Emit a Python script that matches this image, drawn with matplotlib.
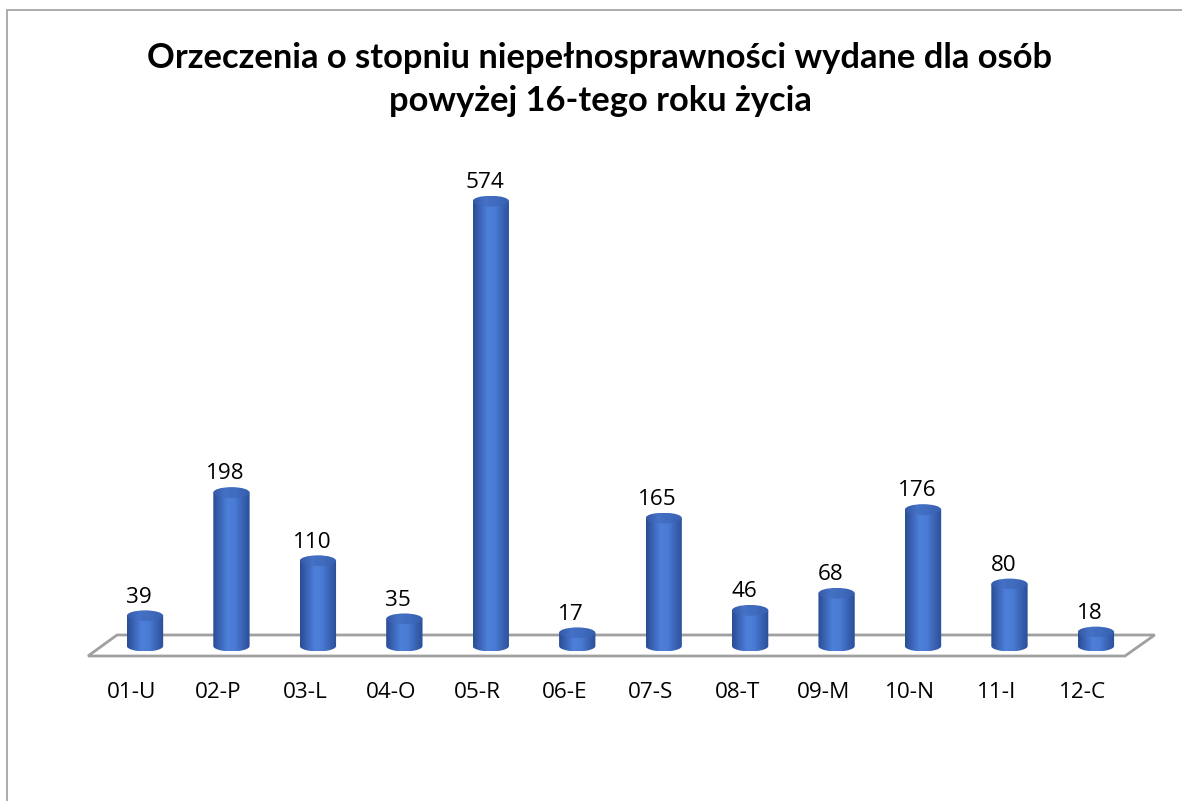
import numpy as np
import matplotlib
matplotlib.use("Agg")
import matplotlib.pyplot as plt
from matplotlib.patches import Ellipse, PathPatch, Rectangle, Polygon
from matplotlib.path import Path
from matplotlib.colors import LinearSegmentedColormap
from matplotlib.transforms import ScaledTranslation

# data
categories = ["01-U", "02-P", "03-L", "04-O", "05-R", "06-E",
              "07-S", "08-T", "09-M", "10-N", "11-I", "12-C"]
values = [39, 198, 110, 35, 574, 17, 165, 46, 68, 176, 80, 18]
title = "Orzeczenia o stopniu niepełnosprawności wydane dla osób\npowyżej 16-tego roku życia"

plt.rcParams['font.family'] = ['Open Sans', 'DejaVu Sans']

W, H = 1182, 801
fig = plt.figure(figsize=(W / 100, H / 100), dpi=100)

# outer chart frame (only top and left edges visible)
fig.patches.append(Rectangle((7 / W, -0.2), 1.2, 1.2 - 10 / H, transform=fig.transFigure,
                             fill=False, ec="#a6a6a6", lw=1.3))

ax = fig.add_axes([80 / W, (H - 660) / H, 1090 / W, 510 / H])
ax.set_xlim(-0.752, 11.857)
ax.set_ylim(-18.06, 640)
for s in ax.spines.values():
    s.set_visible(False)
ax.set_yticks([])
ax.set_xticks(range(len(categories)))
ax.set_xticklabels(categories, fontsize=16.2)
ax.tick_params(axis="x", length=0, pad=16)
# labels sit on the front edge of the 3D floor, a bit left of the bars
shift = ScaledTranslation(-13 / 100, 0, fig.dpi_scale_trans)
for lab in ax.get_xticklabels():
    lab.set_transform(lab.get_transform() + shift)

# floor
floor = Polygon([(-0.324, 14.2), (11.68, 14.2), (11.336, -12.9), (-0.659, -12.9)],
                closed=True, fc="white", ec="#a0a0a0", lw=2, zorder=1)
ax.add_patch(floor)

body_cmap = LinearSegmentedColormap.from_list(
    "body", ["#2a4c92", "#3c66b8", "#4d80da", "#4a7bd4", "#3a63b3", "#2b4f98"])
top_cmap = LinearSegmentedColormap.from_list(
    "top", ["#3459a6", "#4571c6", "#3f6abd", "#3560ae"])

w = 0.42
eh = 7.0  # half height of the ellipse, in data units
grad = np.linspace(0, 1, 256).reshape(1, -1)

for i, v in enumerate(values):
    x0, x1 = i - w / 2, i + w / 2
    th = np.linspace(np.pi, 2 * np.pi, 40)
    verts = [(x0, v), (x0, 0)]
    verts += [(i + w / 2 * np.cos(t), eh * np.sin(t)) for t in th]
    verts += [(x1, v), (x0, v)]
    codes = [Path.MOVETO] + [Path.LINETO] * (len(verts) - 2) + [Path.CLOSEPOLY]
    body = PathPatch(Path(verts, codes), fc="none", ec="none", zorder=3)
    ax.add_patch(body)
    im = ax.imshow(grad, cmap=body_cmap, extent=(x0, x1, -eh, v), aspect="auto",
                   zorder=3, interpolation="bilinear")
    im.set_clip_path(body)

    top = Ellipse((i, v), w, 2 * eh, fc="none", ec="none", zorder=4)
    ax.add_patch(top)
    im2 = ax.imshow(grad, cmap=top_cmap, extent=(x0, x1, v - eh, v + eh), aspect="auto",
                    zorder=4, interpolation="bilinear")
    im2.set_clip_path(top)

    ax.annotate(str(v), (i, v), xytext=(-4.3, 9.5), textcoords="offset points",
                ha="center", va="baseline", fontsize=16.2, color="black")

ax.set_xlim(-0.752, 11.857)
ax.set_ylim(-18.06, 640)

# baseline of the last title line
fig.text(600 / W, 1 - 111 / H, title, ha="center", va="baseline", fontsize=24.8,
         fontweight="bold", linespacing=1.44, family=['Lato', 'DejaVu Sans'])

fig.savefig("out.png", dpi=100, facecolor="white")
